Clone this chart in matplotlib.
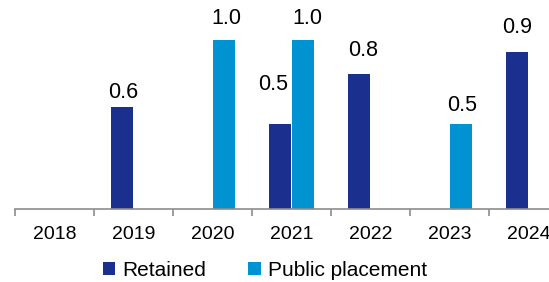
import numpy as np
import matplotlib.pyplot as plt

plt.rcParams['font.family'] = ['Liberation Sans', 'DejaVu Sans']

years = ["2018", "2019", "2020", "2021", "2022", "2023", "2024"]
retained = [0, 0.6, 0, 0.5, 0.8, 0, 0.93]
public = [0, 0, 1.0, 1.0, 0, 0.5, 0]

# label offsets (points) per bar, to mimic the original placement
ret_off = [(0, 0), (1, 3), (0, 0), (-5, 21), (3, 9), (0, 0), (0, 10)]
pub_off = [(0, 0), (0, 0), (2, 8), (3, 8), (0, 0), (1, 6), (0, 0)]

dark = "#1b2f8f"
light = "#0092d1"

W, H = 549, 282
fig = plt.figure(figsize=(W / 100, H / 100), dpi=100)
# axis line at y=209 px, first boundary at x=15 px, 79 px per year
ax = fig.add_axes([15 / W, (H - 209) / H, (79 * 7) / W, 203 / H])

x = np.arange(len(years))
bw = 0.28
b1 = ax.bar(x - bw / 2 - 0.01, retained, bw, color=dark, label="Retained")
b2 = ax.bar(x + bw / 2 + 0.005, public, bw, color=light, label="Public placement")

for bars, offs in ((b1, ret_off), (b2, pub_off)):
    for b, (dx, dy) in zip(bars, offs):
        h = b.get_height()
        if h > 0:
            ax.annotate(f"{h:.1f}", (b.get_x() + b.get_width() / 2, h),
                        xytext=(dx, dy), textcoords="offset points",
                        ha="center", va="bottom", fontsize=15.5)

ax.set_xlim(-0.5, 6.5)
ax.set_ylim(0, 1.2)
ax.set_yticks([])
for s in ("left", "right", "top"):
    ax.spines[s].set_visible(False)
ax.spines["bottom"].set_color("#8c8c8c")
ax.spines["bottom"].set_linewidth(1.2)

ax.set_xticks(np.arange(-0.5, 7, 1))
ax.set_xticklabels([])
ax.tick_params(axis="x", which="major", length=5, color="#8c8c8c", width=1.2)
ax.set_xticks(x, minor=True)
ax.set_xticklabels(years, minor=True, fontsize=14)
ax.tick_params(axis="x", which="minor", length=0, pad=12)

fig.legend(handles=[b1, b2], loc="center", bbox_to_anchor=(265 / W, (H - 270) / H),
           ncol=2, frameon=False, fontsize=15, handlelength=0.6, handleheight=0.6,
           handletextpad=0.35, columnspacing=2.0, borderpad=0, borderaxespad=0)

fig.savefig("out.png", dpi=100)
